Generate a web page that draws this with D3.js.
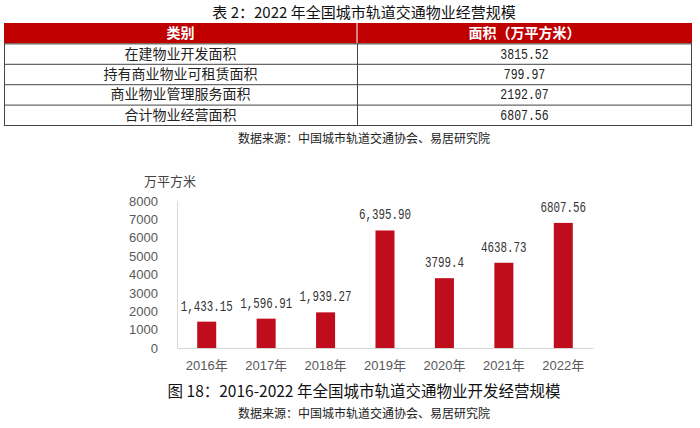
<!DOCTYPE html>
<html><head><meta charset="utf-8">
<script src="https://cdn.jsdelivr.net/npm/d3@7"></script>
<style>body{margin:0;background:#fff}svg{display:block}</style>
</head><body><svg id="c" width="700" height="428"></svg>
<script>
const tableTitle = "表 2：2022 年全国城市轨道交通物业经营规模";
const tableHeaders = ["类别", "面积（万平方米）"];
const tableCategories = ["在建物业开发面积", "持有商业物业可租赁面积", "商业物业管理服务面积", "合计物业经营面积"];
const tableValues = ["3815.52", "799.97", "2192.07", "6807.56"];
const sourceText = "数据来源：中国城市轨道交通协会、易居研究院";
const years = ["2016年", "2017年", "2018年", "2019年", "2020年", "2021年", "2022年"];
const values = [1433.15, 1596.91, 1939.27, 6395.90, 3799.4, 4638.73, 6807.56];
const valueLabels = ["1,433.15", "1,596.91", "1,939.27", "6,395.90", "3799.4", "4638.73", "6807.56"];
const yTicks = [0, 1000, 2000, 3000, 4000, 5000, 6000, 7000, 8000];
const unitLabel = "万平方米";
const chartTitle = "图 18：2016-2022 年全国城市轨道交通物业开发经营规模";

const svg = d3.select("#c");
const cjk = "'Noto Sans CJK SC', sans-serif";
const mono = "'Liberation Mono', 'DejaVu Sans Mono', monospace";

// Table title
svg.append("text").attr("x", 364).attr("y", 18).attr("text-anchor", "middle")
  .attr("font-family", cjk).attr("font-size", 15).attr("fill", "#111").text(tableTitle);

// Table
const tx0 = 4, tx1 = 692, tDiv = 357;
const rowY = d3.scaleBand().domain(d3.range(5)).range([23, 125]);
const colX = [ (tx0 + tDiv) / 2, (tDiv + tx1) / 2 ];
svg.append("rect").attr("x", tx0).attr("y", rowY(0)).attr("width", tx1 - tx0).attr("height", rowY.bandwidth()).attr("fill", "#C00000");
svg.append("line").attr("x1", tDiv).attr("x2", tDiv).attr("y1", rowY(0)).attr("y2", rowY(0) + rowY.bandwidth()).attr("stroke", "#fff").attr("stroke-width", 1);
tableHeaders.forEach((h, i) => {
  svg.append("text").attr("x", colX[i]).attr("y", rowY(0) + rowY.bandwidth() / 2 + 5)
    .attr("text-anchor", "middle").attr("font-family", cjk).attr("font-weight", "bold")
    .attr("font-size", 14).attr("fill", "#fff").text(h);
});
tableCategories.forEach((c, i) => {
  const y = rowY(i + 1);
  svg.append("line").attr("x1", tx0).attr("x2", tx1).attr("y1", y + 0.5).attr("y2", y + 0.5).attr("stroke", "#444");
  svg.append("text").attr("x", colX[0]).attr("y", y + rowY.bandwidth() / 2 + 5)
    .attr("text-anchor", "middle").attr("font-family", cjk).attr("font-size", 14).attr("fill", "#222").text(c);
  svg.append("text").attr("x", colX[1]).attr("y", y + rowY.bandwidth() / 2 + 5)
    .attr("text-anchor", "middle").attr("font-family", mono).attr("font-size", 14)
    .attr("textLength", tableValues[i].length * 6.9).attr("lengthAdjust", "spacingAndGlyphs")
    .attr("fill", "#222").text(tableValues[i]);
});
svg.append("line").attr("x1", tx0).attr("x2", tx1).attr("y1", 125.5).attr("y2", 125.5).attr("stroke", "#444");
[tx0 + 0.5, tDiv + 0.5, tx1 - 0.5].forEach(x => {
  svg.append("line").attr("x1", x).attr("x2", x).attr("y1", rowY(1)).attr("y2", 125.5).attr("stroke", "#444");
});
svg.append("text").attr("x", 364).attr("y", 143).attr("text-anchor", "middle")
  .attr("font-family", cjk).attr("font-size", 12).attr("fill", "#222").text(sourceText);

// Chart
const x = d3.scaleBand().domain(years).range([177, 593]).paddingInner(0.68).paddingOuter(0.34);
const y = d3.scaleLinear().domain([0, 8000]).range([348, 201]);

svg.append("text").attr("x", 170).attr("y", 186).attr("text-anchor", "middle")
  .attr("font-family", cjk).attr("font-size", 13).attr("fill", "#444").text(unitLabel);

const yAxis = svg.append("g").attr("transform", "translate(177,0)")
  .call(d3.axisLeft(y).tickValues(yTicks).tickSize(0).tickPadding(19).tickFormat(d3.format("d")));
yAxis.select(".domain").attr("stroke", "#d9d9d9");
yAxis.selectAll("text").attr("font-family", "'Liberation Sans', Arial, sans-serif").attr("font-size", 13).attr("fill", "#595959");

const xAxis = svg.append("g").attr("transform", "translate(0,348)")
  .call(d3.axisBottom(x).tickSize(0).tickPadding(13));
xAxis.select(".domain").attr("stroke", "#d9d9d9");
xAxis.selectAll("text").attr("font-family", "'Liberation Sans', " + cjk).attr("font-size", 13).attr("fill", "#595959");

svg.append("g").selectAll("rect").data(values).join("rect")
  .attr("x", (d, i) => x(years[i])).attr("width", x.bandwidth())
  .attr("y", d => y(d)).attr("height", d => y(0) - y(d)).attr("fill", "#C00D1E");

svg.append("g").selectAll("text").data(values).join("text")
  .attr("x", (d, i) => x(years[i]) + x.bandwidth() / 2)
  .attr("y", d => y(d) - 11)
  .attr("text-anchor", "middle").attr("font-family", mono).attr("font-size", 14)
  .attr("textLength", (d, i) => valueLabels[i].length * 6.5).attr("lengthAdjust", "spacingAndGlyphs")
  .attr("fill", "#333").text((d, i) => valueLabels[i]);

svg.append("text").attr("x", 364).attr("y", 397).attr("text-anchor", "middle")
  .attr("font-family", cjk).attr("font-size", 15.5).attr("fill", "#111").text(chartTitle);
svg.append("text").attr("x", 364).attr("y", 418).attr("text-anchor", "middle")
  .attr("font-family", cjk).attr("font-size", 12).attr("fill", "#222").text(sourceText);
</script></body></html>
